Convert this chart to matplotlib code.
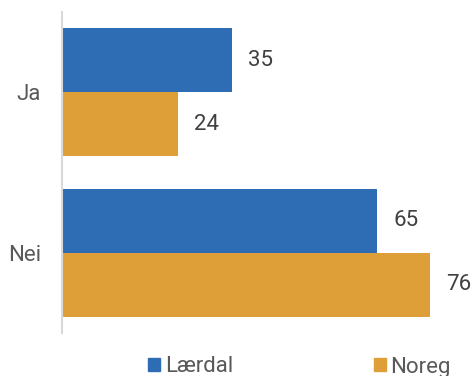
import matplotlib.pyplot as plt
import numpy as np
from matplotlib.patches import Patch

plt.rcParams['font.family'] = ['Roboto', 'DejaVu Sans']

# data
kategoriar = ['Ja', 'Nei']
serie_namn = ['Lærdal', 'Noreg']
laerdal = [35, 65]
noreg = [24, 76]
fargar = ['#2E6DB4', '#DF9F38']

fig = plt.figure(figsize=(4.74, 3.76), dpi=100)
ax = fig.add_axes([62/474, 43/376, 412/474, 321/376])

y = np.arange(len(kategoriar))
h = 0.4
for verdiar, off, farge in [(laerdal, -h/2, fargar[0]), (noreg, h/2, fargar[1])]:
    bars = ax.barh(y + off, verdiar, height=h, color=farge)
    for b, v in zip(bars, verdiar):
        ax.annotate(str(v), (b.get_width(), b.get_y() + b.get_height()/2),
                    xytext=(16, 0), textcoords='offset pixels',
                    va='center', ha='left', fontsize=16, color='#404040')

ax.set_ylim(1.5, -0.5)
ax.set_xlim(0, 85)
ax.set_yticks(y)
ax.set_yticklabels(kategoriar, fontsize=16, color='#595959')
ax.tick_params(axis='y', length=0, pad=15)
ax.set_xticks([])
for s in ['top', 'right', 'bottom']:
    ax.spines[s].set_visible(False)
ax.spines['left'].set_color('#D9D9D9')
ax.spines['left'].set_linewidth(1.5)

handles = [Patch(color=c, label=n) for c, n in zip(fargar, serie_namn)]
leg = fig.legend(handles=handles, loc='center', ncol=2, frameon=False, fontsize=16,
                 handlelength=0.55, handleheight=0.55, handletextpad=0.22,
                 columnspacing=6.3, borderpad=0)
leg.set_bbox_to_anchor((0.632, 1 - 367/376), transform=fig.transFigure)
for t in leg.get_texts():
    t.set_color('#595959')

fig.savefig('out.png', dpi=100)
